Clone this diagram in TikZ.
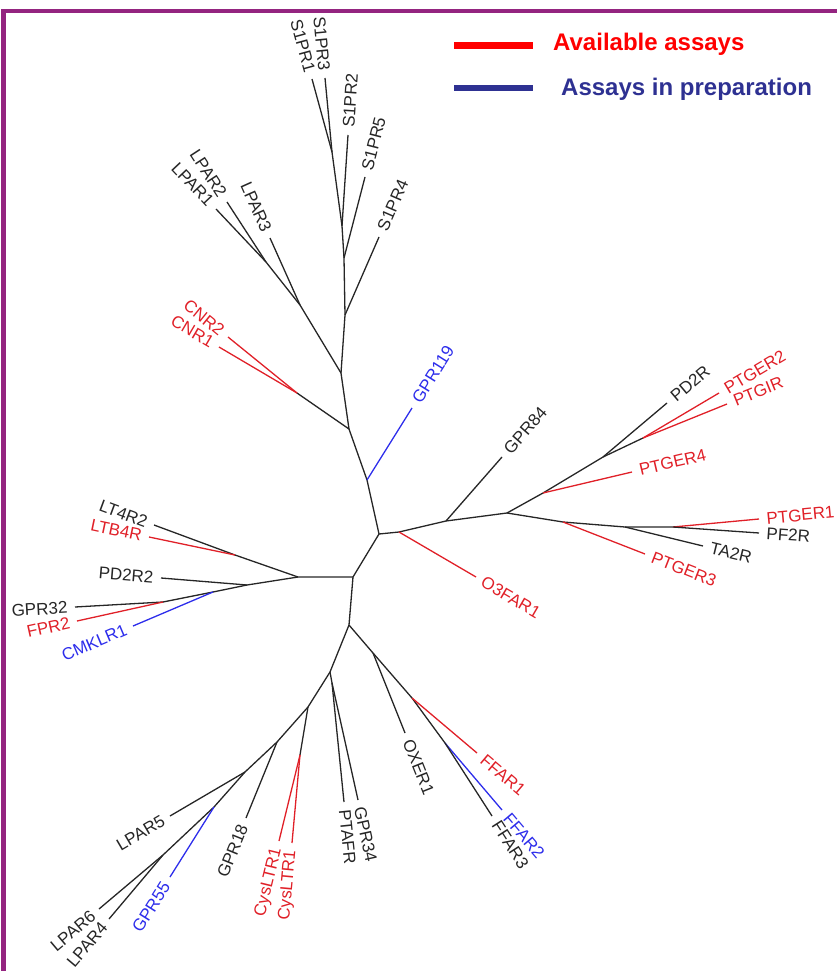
\documentclass[tikz,border=0pt]{standalone}
\usepackage{fontspec}
\setmainfont{Liberation Sans}
\definecolor{frame}{RGB}{148,36,128}
\definecolor{lred}{RGB}{224,32,40}
\definecolor{lblue}{RGB}{45,45,235}
\definecolor{gred}{RGB}{255,0,0}
\definecolor{gblue}{RGB}{46,49,146}
\newcommand{\leaf}[5]{\draw[#3] (#1) -- (#2) node[lbl, sloped, pos=1, anchor=#4] (L-#2) {#5};}
\begin{document}
\begin{tikzpicture}[x=1pt,y=-1pt,
  br/.style={line width=1.3pt, color=black!85},
  brr/.style={line width=1.3pt, color=lred},
  brb/.style={line width=1.3pt, color=lblue},
  lbl/.style={font=\fontsize{17}{20}\selectfont, inner xsep=7pt, inner ysep=1pt},
  legtext/.style={font=\fontsize{24}{28}\selectfont\bfseries, inner sep=0pt, anchor=base west}]
\useasboundingbox (0,0) rectangle (837,971);
% frame
\coordinate (fr1) at (3.5,971);
\coordinate (fr2) at (3.5,11);
\coordinate (fr3) at (837,11);
\draw[frame, line width=4.5pt] (fr1) -- (fr2) -- (fr3);
% legend
\coordinate (lg1a) at (454,45.5);
\coordinate (lg1b) at (533,45.5);
\coordinate (lg2a) at (454,88);
\coordinate (lg2b) at (533,88);
\draw[gred, line width=6.5pt] (lg1a) -- (lg1b);
\draw[gblue, line width=6.5pt] (lg2a) -- (lg2b);
\node[legtext, text=gred] (leg1) at (553,51) {Available assays};
\node[legtext, text=gblue] (leg2) at (561,96) {Assays in preparation};

% internal nodes
\coordinate (A) at (379,534);
\coordinate (B) at (353,577);
\coordinate (C) at (349,625);
\coordinate (U1) at (367,480);
\coordinate (U2) at (349,429);
\coordinate (CN) at (297,393);
\coordinate (U3) at (341,373);
\coordinate (Sa) at (345,315);
\coordinate (Sb) at (344,258);
\coordinate (Sc) at (342,226);
\coordinate (Sd) at (332,152);
\coordinate (La) at (300,305);
\coordinate (Lb) at (266,262);
\coordinate (O1) at (399,532);
\coordinate (R1) at (446,521);
\coordinate (D) at (507,513);
\coordinate (P4) at (543,493);
\coordinate (PD) at (603,457);
\coordinate (PG) at (643,438);
\coordinate (P3) at (563,522);
\coordinate (Q) at (625,527);
\coordinate (Rr) at (673,527);
\coordinate (E) at (298,577);
\coordinate (F) at (235,555);
\coordinate (G) at (247,585);
\coordinate (H) at (213,592);
\coordinate (I) at (163,602);
\coordinate (J) at (330,672);
\coordinate (K) at (332,683);
\coordinate (Lw) at (308,707);
\coordinate (CY) at (300,755);
\coordinate (M) at (277,742);
\coordinate (N) at (245,772);
\coordinate (Gs) at (214,807);
\coordinate (O) at (163,855);
\coordinate (P) at (373,653);
\coordinate (F1) at (412,698);
\coordinate (F2) at (445,743);

% tips
\coordinate (tS1PR1) at (312,79);
\coordinate (tS1PR3) at (325,78);
\coordinate (tS1PR2) at (348,135);
\coordinate (tS1PR5) at (365,177);
\coordinate (tS1PR4) at (379,237);
\coordinate (tLPAR1) at (216,209);
\coordinate (tLPAR2) at (227,202);
\coordinate (tLPAR3) at (270,238);
\coordinate (tCNR2) at (228,337);
\coordinate (tCNR1) at (219,347);
\coordinate (tGPR119) at (412,408);
\coordinate (tGPR84) at (502,457);
\coordinate (tO3FAR1) at (476,577);
\coordinate (tPTGER4) at (632,472);
\coordinate (tPD2R) at (667,403);
\coordinate (tPTGER2) at (719,393);
\coordinate (tPTGIR) at (727,404);
\coordinate (tPTGER3) at (645,554);
\coordinate (tTA2R) at (703,546);
\coordinate (tPTGER1) at (759,519);
\coordinate (tPF2R) at (759,533);
\coordinate (tLT4R2) at (154,525);
\coordinate (tLTB4R) at (149,537);
\coordinate (tPD2R2) at (161,578);
\coordinate (tCMKLR1) at (133,626);
\coordinate (tGPR32) at (75,607);
\coordinate (tFPR2) at (77,621);
\coordinate (tPTAFR) at (344,802);
\coordinate (tGPR34) at (358,800);
\coordinate (tCys1) at (279,841);
\coordinate (tCys2) at (292,843);
\coordinate (tGPR18) at (246,818);
\coordinate (tLPAR5) at (170,816);
\coordinate (tGPR55) at (170,877);
\coordinate (tLPAR6) at (99,909);
\coordinate (tLPAR4) at (109,919);
\coordinate (tOXER1) at (405,733);
\coordinate (tFFAR1) at (477,753);
\coordinate (tFFAR2) at (502,810);
\coordinate (tFFAR3) at (492,816);

% internal edges
\draw[br, line join=round] (A) -- (B) -- (C);
\draw[br, line join=round] (A) -- (U1) -- (U2) -- (U3) -- (Sa) -- (Sb) -- (Sc) -- (Sd);
\draw[br] (U2) -- (CN);
\draw[br, line join=round] (U3) -- (La) -- (Lb);
\draw[br, line join=round] (A) -- (O1) -- (R1) -- (D);
\draw[br, line join=round] (D) -- (P4) -- (PD) -- (PG);
\draw[br, line join=round] (D) -- (P3) -- (Q) -- (Rr);
\draw[br, line join=round] (B) -- (E) -- (F);
\draw[br, line join=round] (E) -- (G) -- (H) -- (I);
\draw[br, line join=round] (C) -- (J) -- (K);
\draw[br, line join=round] (J) -- (Lw) -- (CY);
\draw[br, line join=round] (Lw) -- (M) -- (N) -- (Gs) -- (O);
\draw[br, line join=round] (C) -- (P) -- (F1) -- (F2);

% leaves
\leaf{Sd}{tS1PR1}{br}{east}{S1PR1}
\leaf{Sd}{tS1PR3}{br}{east}{S1PR3}
\leaf{Sc}{tS1PR2}{br}{west}{S1PR2}
\leaf{Sb}{tS1PR5}{br}{west}{S1PR5}
\leaf{Sa}{tS1PR4}{br}{west}{S1PR4}
\leaf{Lb}{tLPAR1}{br}{east}{LPAR1}
\leaf{Lb}{tLPAR2}{br}{east}{LPAR2}
\leaf{La}{tLPAR3}{br}{east}{LPAR3}
\leaf{CN}{tCNR2}{brr}{east}{CNR2}
\leaf{CN}{tCNR1}{brr}{east}{CNR1}
\leaf{U1}{tGPR119}{brb}{west}{GPR119}
\leaf{R1}{tGPR84}{br}{west}{GPR84}
\leaf{O1}{tO3FAR1}{brr}{west}{O3FAR1}
\leaf{P4}{tPTGER4}{brr}{west}{PTGER4}
\leaf{PD}{tPD2R}{br}{west}{PD2R}
\leaf{PG}{tPTGER2}{brr}{west}{PTGER2}
\leaf{PG}{tPTGIR}{brr}{west}{PTGIR}
\leaf{P3}{tPTGER3}{brr}{west}{PTGER3}
\leaf{Q}{tTA2R}{br}{west}{TA2R}
\leaf{Rr}{tPTGER1}{brr}{west}{PTGER1}
\leaf{Rr}{tPF2R}{br}{west}{PF2R}
\leaf{F}{tLT4R2}{br}{east}{LT4R2}
\leaf{F}{tLTB4R}{brr}{east}{LTB4R}
\leaf{G}{tPD2R2}{br}{east}{PD2R2}
\leaf{H}{tCMKLR1}{brb}{east}{CMKLR1}
\leaf{I}{tGPR32}{br}{east}{GPR32}
\leaf{I}{tFPR2}{brr}{east}{FPR2}
\leaf{K}{tPTAFR}{br}{west}{PTAFR}
\leaf{K}{tGPR34}{br}{west}{GPR34}
\leaf{CY}{tCys1}{brr}{east}{CysLTR1}
\leaf{CY}{tCys2}{brr}{east}{CysLTR1}
\leaf{M}{tGPR18}{br}{east}{GPR18}
\leaf{N}{tLPAR5}{br}{east}{LPAR5}
\leaf{Gs}{tGPR55}{brb}{east}{GPR55}
\leaf{O}{tLPAR6}{br}{east}{LPAR6}
\leaf{O}{tLPAR4}{br}{east}{LPAR4}
\leaf{P}{tOXER1}{br}{west}{OXER1}
\leaf{F1}{tFFAR1}{brr}{west}{FFAR1}
\leaf{F2}{tFFAR2}{brb}{west}{FFAR2}
\leaf{F2}{tFFAR3}{br}{west}{FFAR3}
\end{tikzpicture}
\end{document}
